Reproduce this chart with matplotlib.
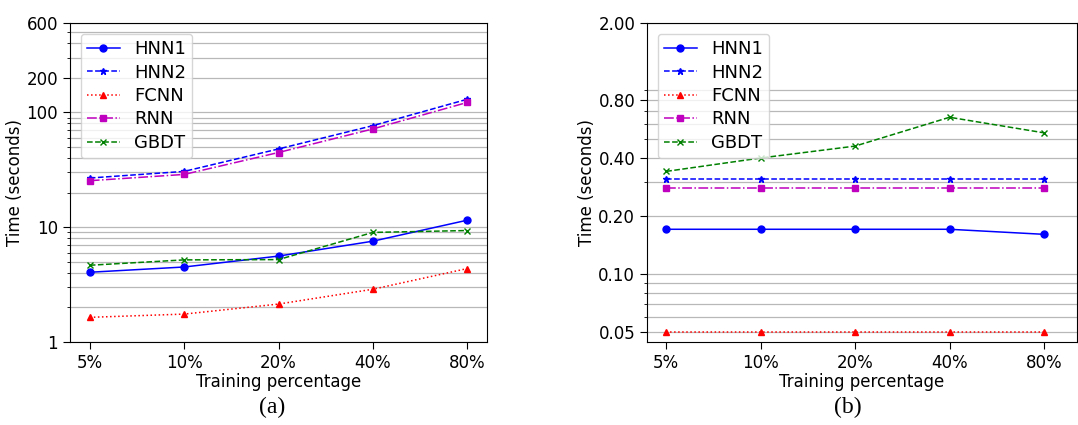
import matplotlib
matplotlib.use("Agg")
import matplotlib.pyplot as plt
from matplotlib.ticker import LogLocator, NullFormatter, FixedLocator, FixedFormatter

plt.rcParams['font.family'] = ['DejaVu Sans']

categories = ["5%", "10%", "20%", "40%", "80%"]

# Panel (a): training time
a_hnn1 = [4.05, 4.5, 5.6, 7.55, 11.5]
a_hnn2 = [26.8, 30.6, 48.0, 76.6, 130.0]
a_fcnn = [1.64, 1.75, 2.14, 2.88, 4.36]
a_rnn = [25.4, 28.8, 44.7, 71.7, 122.0]
a_gbdt = [4.66, 5.19, 5.22, 9.0, 9.35]
a_yticks = [1, 10, 100, 200, 600]
a_yticklabels = ["1", "10", "100", "200", "600"]

# Panel (b): testing time
b_hnn1 = [0.171, 0.171, 0.171, 0.171, 0.161]
b_hnn2 = [0.311, 0.311, 0.311, 0.311, 0.311]
b_fcnn = [0.05, 0.05, 0.05, 0.05, 0.05]
b_rnn = [0.28, 0.28, 0.28, 0.28, 0.28]
b_gbdt = [0.341, 0.40, 0.461, 0.65, 0.54]
b_yticks = [0.05, 0.10, 0.20, 0.40, 0.80, 2.00]
b_yticklabels = ["0.05", "0.10", "0.20", "0.40", "0.80", "2.00"]

labels = ["HNN1", "HNN2", "FCNN", "RNN", "GBDT"]
styles = [
    dict(color="blue", linestyle="-", marker="o", markersize=5),
    dict(color="blue", linestyle="--", marker="*", markersize=5),
    dict(color="red", linestyle=":", marker="^", markersize=5),
    dict(color="m", linestyle="-.", marker="s", markersize=5),
    dict(color="green", linestyle="--", marker="x", markersize=5),
]

W, H = 1078, 425
fig = plt.figure(figsize=(W / 100, H / 100), dpi=100)
ax1 = fig.add_axes([70 / W, (H - 342) / H, (487 - 70) / W, (342 - 23) / H])
ax2 = fig.add_axes([647 / W, (H - 342) / H, (1077 - 647) / W, (342 - 23) / H])

x = list(range(len(categories)))

def draw(ax, series, yticks, yticklabels, ylim, xlim):
    for ys, lab, st in zip(series, labels, styles):
        ax.plot(x, ys, label=lab, linewidth=1.1, **st)
    ax.set_yscale("log")
    ax.set_ylim(*ylim)
    ax.set_xlim(*xlim)
    ax.yaxis.set_major_locator(FixedLocator(yticks))
    ax.yaxis.set_major_formatter(FixedFormatter(yticklabels))
    ax.yaxis.set_minor_locator(LogLocator(base=10, subs=range(2, 10)))
    ax.yaxis.set_minor_formatter(NullFormatter())
    ax.set_xticks(x)
    ax.set_xticklabels(categories)
    ax.grid(True, which="both", axis="y", color="#b8b8b8", linewidth=0.9)
    ax.set_axisbelow(True)
    ax.tick_params(which="major", labelsize=12, length=5)
    ax.set_xlabel("Training percentage", fontsize=12, labelpad=1)
    ax.set_ylabel("Time (seconds)", fontsize=12, labelpad=2)
    ax.legend(loc="upper left", fontsize=13, handlelength=1.8, handletextpad=0.8,
              borderaxespad=0.6, labelspacing=0.3, borderpad=0.35)

draw(ax1, [a_hnn1, a_hnn2, a_fcnn, a_rnn, a_gbdt], a_yticks, a_yticklabels,
     (1, 600), (-0.21, 4.21))
draw(ax2, [b_hnn1, b_hnn2, b_fcnn, b_rnn, b_gbdt], b_yticks, b_yticklabels,
     (0.0446, 2.0), (-0.204, 4.35))

fig.text(272 / W, 1 - 407 / H, "(a)", ha="center", va="center",
         fontsize=17, family="Liberation Serif")
fig.text(848 / W, 1 - 407 / H, "(b)", ha="center", va="center",
         fontsize=17, family="Liberation Serif")

fig.savefig("out.png", dpi=100)
